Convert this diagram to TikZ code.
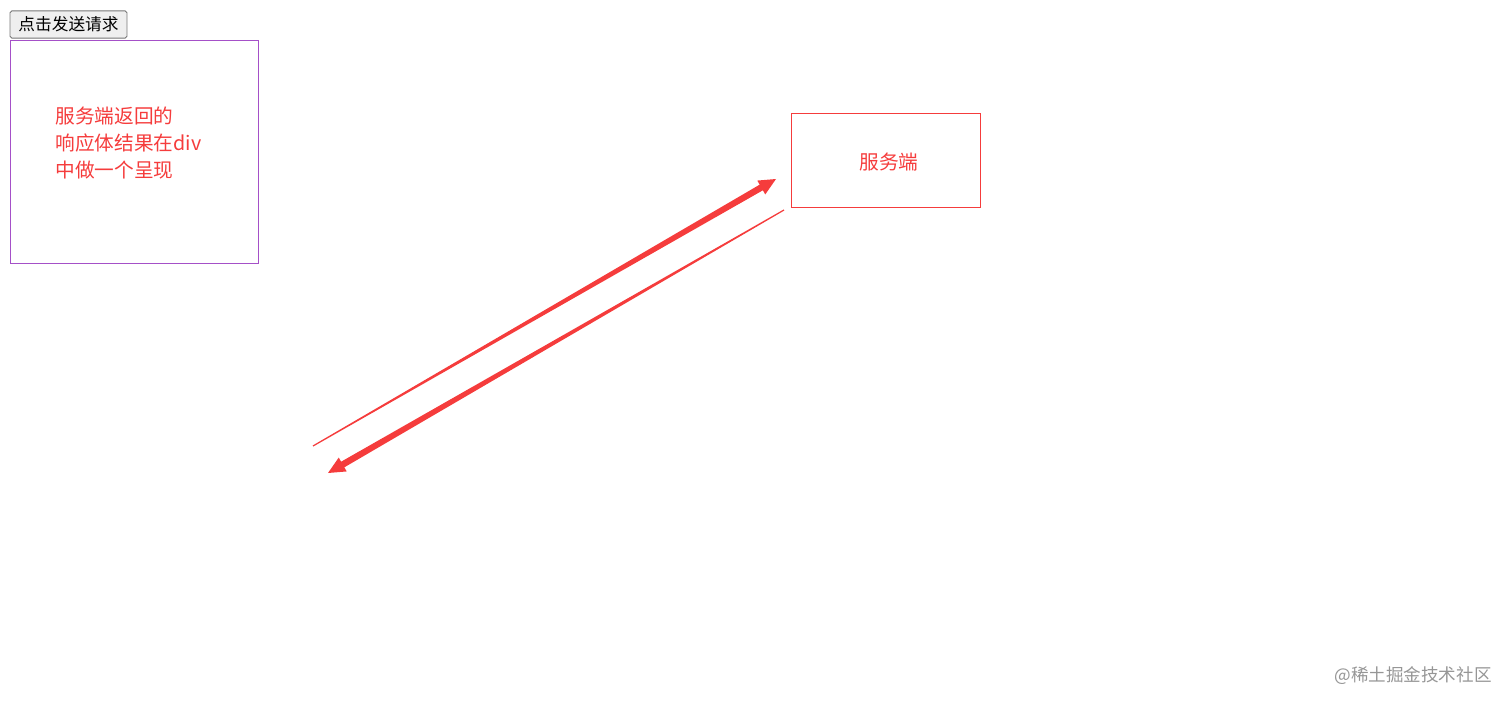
\documentclass[tikz,border=0pt]{standalone}
\usepackage{fontspec}
\setmainfont{Noto Sans CJK SC}
\usetikzlibrary{calc}

\definecolor{linered}{RGB}{245,60,60}
\definecolor{boxpurple}{RGB}{165,80,200}
\definecolor{btngray}{RGB}{239,239,239}
\definecolor{btnborder}{RGB}{118,118,118}
\definecolor{markgray}{RGB}{150,150,150}

% tapered hand-drawn arrow from #1 (thin tail) to #2 (tip)
\newcommand{\taperarrow}[2]{%
	\path ($(#2)!0.34cm!(#1)$) coordinate (base);
	\fill[linered] ($(#1)!0.012cm!-90:(#2)$) --
		($(#1)!0.012cm!90:(#2)$) --
		($(base)!0.065cm!90:(#2)$) --
		($(base)!0.16cm!90:(#2)$) -- (#2) --
		($(base)!0.16cm!-90:(#2)$) --
		($(base)!0.065cm!-90:(#2)$) -- cycle;}

\begin{document}
\begin{tikzpicture}[x=0.02cm, y=-0.02cm]

	\useasboundingbox (0,0) rectangle (1512,706);

	\draw (68.5,24.5) node[draw = btnborder,
					 fill = btngray,
					 rounded corners = 1pt,
					 line width = 0.5pt,
					 minimum width = 2.34cm,
					 minimum height = 0.54cm,
					 font = \fontsize{9.5}{11}\selectfont] (button) {点击发送请求};

	\draw (134,151.5) node[draw = boxpurple,
					 line width = 0.5pt,
					 minimum width = 4.96cm,
					 minimum height = 4.46cm] (result) {};

	\draw (55,143) node[anchor = west,
					 align = left,
					 inner sep = 0pt,
					 text = linered,
					 font = \fontsize{11.2}{15.6}\selectfont] (resulttext)
					 {服务端返回的\\响应体结果在div\\中做一个呈现};

	\draw (885.5,160) node[draw = linered,
					 line width = 0.5pt,
					 minimum width = 3.78cm,
					 minimum height = 1.88cm] (server) {};

	\draw (889,162) node[text = linered,
					 inner sep = 0pt,
					 font = \fontsize{11.2}{13}\selectfont] (servertext) {服务端};

	\coordinate (reqstart) at (313,446);
	\coordinate (reqend) at (776,179);
	\coordinate (respstart) at (784,210);
	\coordinate (respend) at (328,473);

	\taperarrow{reqstart}{reqend}
	\taperarrow{respstart}{respend}

	\draw (1492,676) node[anchor = east,
					 inner sep = 0pt,
					 text = markgray,
					 font = \fontsize{10}{12}\selectfont] (mark) {@稀土掘金技术社区};
\end{tikzpicture}
\end{document}
